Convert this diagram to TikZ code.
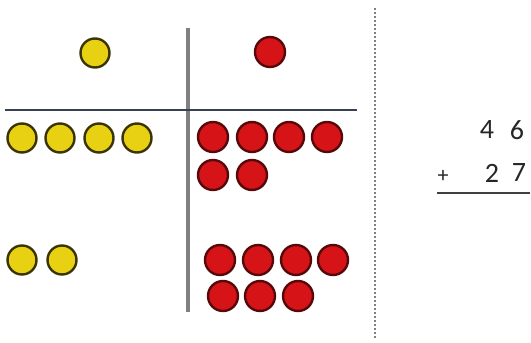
\documentclass[tikz,border=0pt]{standalone}
\usepackage{fontspec}
\setmainfont{Carlito}
\usetikzlibrary{positioning}

\begin{document}
\begin{tikzpicture}[x=1pt, y=-1pt]
  % Colours of the counters
  \definecolor{cTen}{RGB}{232, 208, 18}    % yellow counters
  \definecolor{cOne}{RGB}{214, 20, 24}     % red counters
  \definecolor{cRule}{RGB}{58, 64, 84}     % dark slate rule
  \tikzset{
    tencounter/.style={circle, fill=cTen, draw=cTen!25!black, line width=2.4pt, minimum size=29pt, inner sep=0pt},
    onecounter/.style={circle, fill=cOne, draw=cOne!40!black, line width=2.4pt, minimum size=30pt, inner sep=0pt},
    digit/.style={font=\fontsize{28}{30}\selectfont, text=black!85}
  }

  % Picture frame
  \useasboundingbox (0,0) rectangle (531,343);

  % Grid lines of the place value table
  \draw[black!50, line width=3.5pt] (188,28) -- (188,312);
  \draw[cRule, line width=2.5pt] (5,110) -- (357,110);
  \draw[black!50, line width=1.4pt, dash pattern=on 2pt off 2pt] (375,8) -- (375,338);

  % Column headings
  \node[tencounter] (tenhead) at (95,53) {};
  \node[onecounter] (onehead) at (270,52) {};

  % First number: 4 tens and 6 ones
  \foreach \i/\x in {1/22,2/60,3/99,4/137}
    \node[tencounter] (ta\i) at (\x,138) {};
  \foreach \i/\x in {1/213,2/252,3/289,4/327}
    \node[onecounter] (oa\i) at (\x,137) {};
  \foreach \i/\x in {5/213,6/252}
    \node[onecounter] (oa\i) at (\x,175) {};

  % Second number: 2 tens and 7 ones
  \foreach \i/\x in {1/22,2/62}
    \node[tencounter] (tb\i) at (\x,260) {};
  \foreach \i/\x in {1/220,2/258,3/296,4/333}
    \node[onecounter] (ob\i) at (\x,260) {};
  \foreach \i/\x in {5/223,6/260,7/298}
    \node[onecounter] (ob\i) at (\x,296) {};

  % Written sum
  \node[digit] (topfour) at (487,130) {4};
  \node[digit] (topsix)  at (517,130) {6};
  \node[digit, font=\fontsize{22}{24}\selectfont] (plus) at (443,176) {+};
  \node[digit] (lowtwo)  at (492,173) {2};
  \node[digit] (lowseven) at (519,173) {7};
  \draw[black!75, line width=1.8pt] (437,193) -- (530,193);

\end{tikzpicture}
\end{document}
